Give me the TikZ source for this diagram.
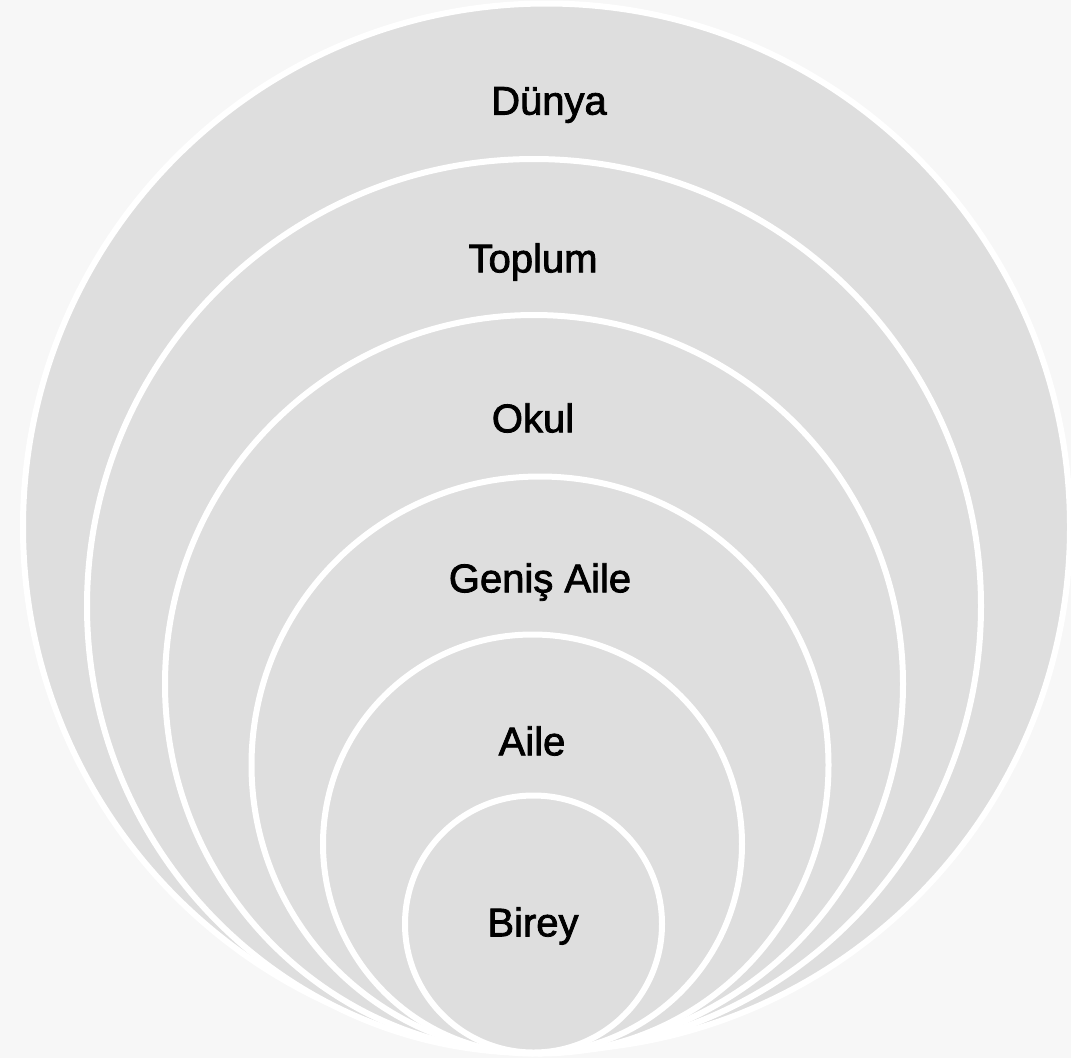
\documentclass[tikz,border=0pt]{standalone}
\usepackage{fontspec}
\setmainfont{Liberation Sans}
\newfontfamily\tagfont{Liberation Sans}[RawFeature={embolden=2}]
\usepackage{xcolor}
\usetikzlibrary{positioning}
\definecolor{pagegray}{HTML}{F7F7F7}
\definecolor{ringgray}{HTML}{DEDEDE}
\tikzset{
  ring/.style={ % one level of the nested circles
    circle, draw=white, fill=ringgray,
    line width=6pt, inner sep=0pt
  },
  tag/.style={ % text of a level
    text=black, inner sep=0pt,
    font=\tagfont\fontsize{40}{48}\selectfont
  }
}
\begin{document}
\begin{tikzpicture}[x=1pt, y=-1pt]

  \fill[pagegray] (0,0) rectangle (1071,1058);
  \useasboundingbox (0,0) rectangle (1071,1058);

  % circles, from the outside in, all touching at the bottom
  \node[ring, minimum size=1047pt] (dunya)  at (546.5,527) {};
  \node[ring, minimum size=894pt]  (toplum) at (534,606) {};
  \node[ring, minimum size=738pt]  (okul)   at (534,684) {};
  \node[ring, minimum size=577pt]  (genis)  at (540,765) {};
  \node[ring, minimum size=419pt]  (aile)   at (532.5,844) {};
  \node[ring, minimum size=257pt]  (birey)  at (533.5,924) {};

  % labels
  \node[tag] (dunya_label)  at (549,105) {Dünya};
  \node[tag] (toplum_label) at (533,262) {Toplum};
  \node[tag] (okul_label)   at (533,418) {Okul};
  \node[tag] (genis_label)  at (540,582) {Geniş Aile};
  \node[tag] (aile_label)   at (532,741) {Aile};
  \node[tag] (birey_label)  at (533,926) {Birey};
\end{tikzpicture}
\end{document}
